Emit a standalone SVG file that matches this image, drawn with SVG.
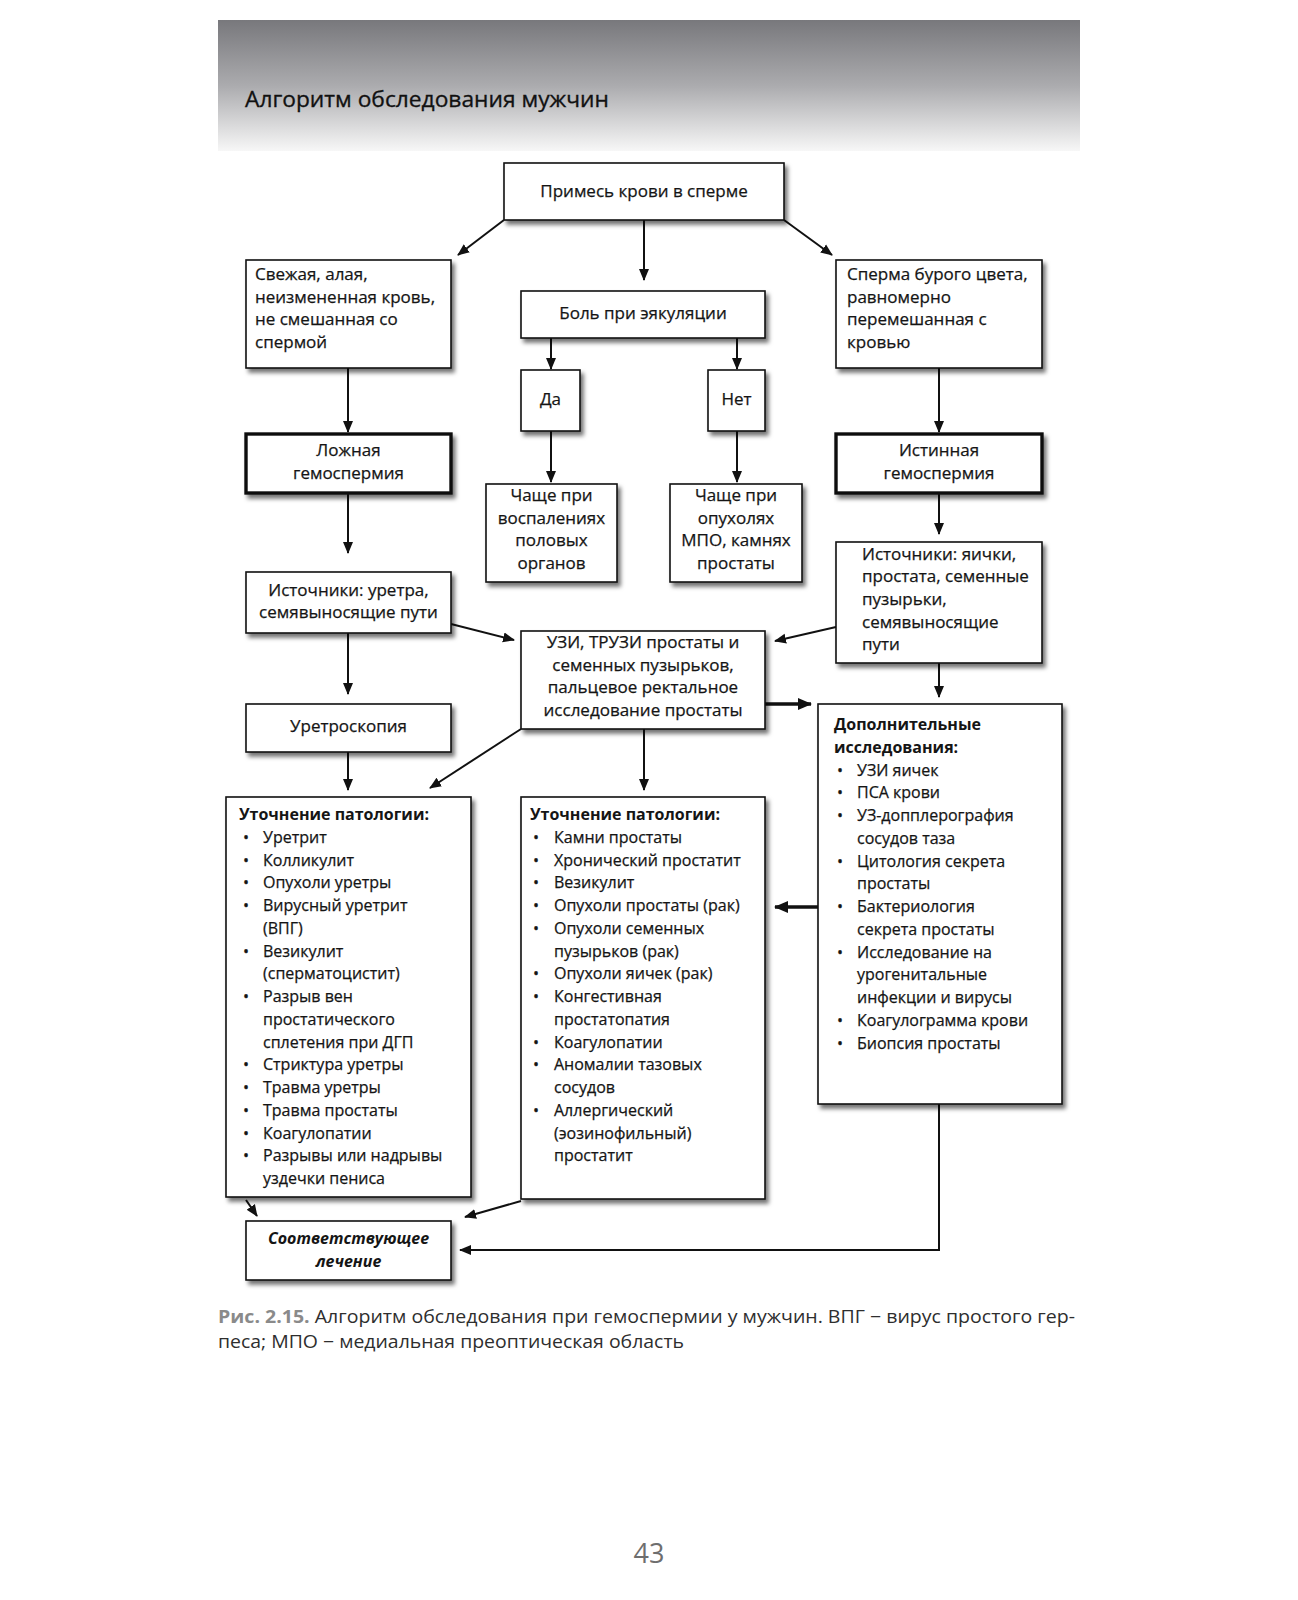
<svg xmlns="http://www.w3.org/2000/svg" width="1298" height="1600" viewBox="0 0 1298 1600">
<defs>
  <linearGradient id="hdr" x1="0" y1="0" x2="0" y2="1">
    <stop offset="0" stop-color="#78787c"/>
    <stop offset="0.5" stop-color="#ababae"/>
    <stop offset="1" stop-color="#f7f7f7"/>
  </linearGradient>
  <filter id="sh" x="-10%" y="-10%" width="130%" height="130%">
    <feDropShadow dx="3" dy="4" stdDeviation="2.2" flood-color="#000" flood-opacity="0.55"/>
  </filter>
  <marker id="ah" markerUnits="userSpaceOnUse" markerWidth="12" markerHeight="12" viewBox="0 0 12 10" refX="11" refY="5" orient="auto">
    <path d="M0,0 L12,5 L0,10 Z" fill="#111"/>
  </marker>
  <marker id="ahT" markerUnits="userSpaceOnUse" markerWidth="14" markerHeight="14" viewBox="0 0 14 12" refX="13" refY="6" orient="auto">
    <path d="M0,0 L14,6 L0,12 Z" fill="#111"/>
  </marker>
  <style>
    .box{fill:#fff;stroke:#111;stroke-width:1.6;filter:url(#sh)}
    .thick{stroke-width:3.4}
    .t{font-family:"Open Sans","Liberation Sans",sans-serif;font-size:17px;fill:#151515;stroke:#151515;stroke-width:0.25}
    .c{text-anchor:middle}
    .l{font-size:16px}
    .b{font-weight:bold;stroke-width:0}
    .bi{font-weight:bold;font-style:italic;stroke-width:0}
    .conn{stroke:#111;stroke-width:2;fill:none;marker-end:url(#ah)}
    .ct{stroke-width:3.6;marker-end:url(#ahT)}
  </style>
</defs>
<rect width="1298" height="1600" fill="#fff"/>

<g id="header">
  <rect x="218" y="20" width="862" height="131" fill="url(#hdr)"/>
  <text x="245" y="107" font-family="'Open Sans','Liberation Sans',sans-serif" font-size="21" fill="#111" stroke="#111" stroke-width="0.3" textLength="364" lengthAdjust="spacingAndGlyphs">Алгоритм обследования мужчин</text>
</g>

<g id="connectors">
  <path class="conn" d="M504,220 L458,255"/>
  <path class="conn" d="M644,220 L644,280"/>
  <path class="conn" d="M784,220 L832,255"/>
  <path class="conn" d="M551,338 L551,369"/>
  <path class="conn" d="M737,338 L737,369"/>
  <path class="conn" d="M551,431 L551,482"/>
  <path class="conn" d="M737,431 L737,482"/>
  <path class="conn" d="M348,368 L348,432"/>
  <path class="conn" d="M939,368 L939,432"/>
  <path class="conn" d="M348,493 L348,553"/>
  <path class="conn" d="M939,493 L939,534"/>
  <path class="conn" d="M451,624 L514,640"/>
  <path class="conn" d="M836,627 L775,641"/>
  <path class="conn" d="M348,633 L348,694"/>
  <path class="conn" d="M939,663 L939,697"/>
  <path class="conn ct" d="M765,704 L811,704"/>
  <path class="conn" d="M644,729 L644,790"/>
  <path class="conn" d="M521,729 L430,788"/>
  <path class="conn" d="M348,752 L348,790"/>
  <path class="conn ct" d="M818,907 L775,907"/>
  <path class="conn" d="M246,1200 L257,1216"/>
  <path class="conn" d="M521,1201 L465,1217"/>
  <path class="conn" d="M939,1104 L939,1250 L460,1250"/>
</g>

<g id="n-top">
  <rect class="box" x="504" y="163" width="280" height="57"/>
  <text class="t c" x="644" y="197">Примесь крови в сперме</text>
</g>
<g id="n-fresh">
  <rect class="box" x="246" y="260" width="205" height="108"/>
  <text class="t" x="255" y="280">Свежая, алая,<tspan x="255" y="303">неизмененная кровь,</tspan><tspan x="255" y="325">не смешанная со</tspan><tspan x="255" y="348">спермой</tspan></text>
</g>
<g id="n-pain">
  <rect class="box" x="521" y="291" width="244" height="47"/>
  <text class="t c" x="643" y="319">Боль при эякуляции</text>
</g>
<g id="n-brown">
  <rect class="box" x="836" y="260" width="206" height="108"/>
  <text class="t" x="847" y="280">Сперма бурого цвета,<tspan x="847" y="303">равномерно</tspan><tspan x="847" y="325">перемешанная с</tspan><tspan x="847" y="348">кровью</tspan></text>
</g>
<g id="n-yes">
  <rect class="box" x="521" y="370" width="59" height="61"/>
  <text class="t c" x="550.5" y="405">Да</text>
</g>
<g id="n-no">
  <rect class="box" x="708" y="370" width="57" height="61"/>
  <text class="t c" x="736.5" y="405">Нет</text>
</g>
<g id="n-false">
  <rect class="box thick" x="246" y="434" width="205" height="59"/>
  <text class="t c" x="348.5" y="456">Ложная<tspan x="348.5" y="479">гемоспермия</tspan></text>
</g>
<g id="n-true">
  <rect class="box thick" x="836" y="434" width="206" height="59"/>
  <text class="t c" x="939" y="456">Истинная<tspan x="939" y="479">гемоспермия</tspan></text>
</g>
<g id="n-infl">
  <rect class="box" x="486" y="484" width="131" height="98"/>
  <text class="t c" x="551.5" y="501">Чаще при<tspan x="551.5" y="524">воспалениях</tspan><tspan x="551.5" y="546">половых</tspan><tspan x="551.5" y="569">органов</tspan></text>
</g>
<g id="n-tum">
  <rect class="box" x="670" y="484" width="132" height="98"/>
  <text class="t c" x="736" y="501">Чаще при<tspan x="736" y="524">опухолях</tspan><tspan x="736" y="546">МПО, камнях</tspan><tspan x="736" y="569">простаты</tspan></text>
</g>
<g id="n-src1">
  <rect class="box" x="246" y="572" width="205" height="61"/>
  <text class="t c" x="348.5" y="596">Источники: уретра,<tspan x="348.5" y="618">семявыносящие пути</tspan></text>
</g>
<g id="n-src2">
  <rect class="box" x="836" y="542" width="206" height="121"/>
  <text class="t" x="862" y="560">Источники: яички,<tspan x="862" y="582">простата, семенные</tspan><tspan x="862" y="605">пузырьки,</tspan><tspan x="862" y="628">семявыносящие</tspan><tspan x="862" y="650">пути</tspan></text>
</g>
<g id="n-uzi">
  <rect class="box" x="521" y="631" width="244" height="98"/>
  <text class="t c" x="643" y="648">УЗИ, ТРУЗИ простаты и<tspan x="643" y="671">семенных пузырьков,</tspan><tspan x="643" y="693">пальцевое ректальное</tspan><tspan x="643" y="716">исследование простаты</tspan></text>
</g>
<g id="n-uretro">
  <rect class="box" x="246" y="704" width="205" height="48"/>
  <text class="t c" x="348.5" y="732">Уретроскопия</text>
</g>
<g id="n-dop">
  <rect class="box" x="818" y="704" width="244" height="400"/>
  <text class="t l b" x="834" y="730">Дополнительные<tspan x="834" dy="22.76">исследования:</tspan></text>
  <text class="t l" x="837" y="775.5">•<tspan x="837" dy="22.76">•</tspan><tspan x="837" dy="22.76">•</tspan><tspan x="837" dy="45.52">•</tspan><tspan x="837" dy="45.52">•</tspan><tspan x="837" dy="45.52">•</tspan><tspan x="837" dy="68.28">•</tspan><tspan x="837" dy="22.76">•</tspan></text>
  <text class="t l" x="857" y="775.5">УЗИ яичек<tspan x="857" dy="22.76">ПСА крови</tspan><tspan x="857" dy="22.76">УЗ-допплерография</tspan><tspan x="857" dy="22.76">сосудов таза</tspan><tspan x="857" dy="22.76">Цитология секрета</tspan><tspan x="857" dy="22.76">простаты</tspan><tspan x="857" dy="22.76">Бактериология</tspan><tspan x="857" dy="22.76">секрета простаты</tspan><tspan x="857" dy="22.76">Исследование на</tspan><tspan x="857" dy="22.76">урогенитальные</tspan><tspan x="857" dy="22.76">инфекции и вирусы</tspan><tspan x="857" dy="22.76">Коагулограмма крови</tspan><tspan x="857" dy="22.76">Биопсия простаты</tspan></text>
</g>
<g id="n-path1">
  <rect class="box" x="226" y="797" width="245" height="400"/>
  <text class="t l b" x="239" y="820">Уточнение патологии:</text>
  <text class="t l" x="243" y="842.8">•<tspan x="243" dy="22.76">•</tspan><tspan x="243" dy="22.76">•</tspan><tspan x="243" dy="22.76">•</tspan><tspan x="243" dy="45.52">•</tspan><tspan x="243" dy="45.52">•</tspan><tspan x="243" dy="68.28">•</tspan><tspan x="243" dy="22.76">•</tspan><tspan x="243" dy="22.76">•</tspan><tspan x="243" dy="22.76">•</tspan><tspan x="243" dy="22.76">•</tspan></text>
  <text class="t l" x="263" y="842.8">Уретрит<tspan x="263" dy="22.76">Колликулит</tspan><tspan x="263" dy="22.76">Опухоли уретры</tspan><tspan x="263" dy="22.76">Вирусный уретрит</tspan><tspan x="263" dy="22.76">(ВПГ)</tspan><tspan x="263" dy="22.76">Везикулит</tspan><tspan x="263" dy="22.76">(сперматоцистит)</tspan><tspan x="263" dy="22.76">Разрыв вен</tspan><tspan x="263" dy="22.76">простатического</tspan><tspan x="263" dy="22.76">сплетения при ДГП</tspan><tspan x="263" dy="22.76">Стриктура уретры</tspan><tspan x="263" dy="22.76">Травма уретры</tspan><tspan x="263" dy="22.76">Травма простаты</tspan><tspan x="263" dy="22.76">Коагулопатии</tspan><tspan x="263" dy="22.76">Разрывы или надрывы</tspan><tspan x="263" dy="22.76">уздечки пениса</tspan></text>
</g>
<g id="n-path2">
  <rect class="box" x="521" y="797" width="244" height="402"/>
  <text class="t l b" x="530" y="820">Уточнение патологии:</text>
  <text class="t l" x="533" y="842.8">•<tspan x="533" dy="22.76">•</tspan><tspan x="533" dy="22.76">•</tspan><tspan x="533" dy="22.76">•</tspan><tspan x="533" dy="22.76">•</tspan><tspan x="533" dy="45.52">•</tspan><tspan x="533" dy="22.76">•</tspan><tspan x="533" dy="45.52">•</tspan><tspan x="533" dy="22.76">•</tspan><tspan x="533" dy="45.52">•</tspan></text>
  <text class="t l" x="554" y="842.8">Камни простаты<tspan x="554" dy="22.76">Хронический простатит</tspan><tspan x="554" dy="22.76">Везикулит</tspan><tspan x="554" dy="22.76">Опухоли простаты (рак)</tspan><tspan x="554" dy="22.76">Опухоли семенных</tspan><tspan x="554" dy="22.76">пузырьков (рак)</tspan><tspan x="554" dy="22.76">Опухоли яичек (рак)</tspan><tspan x="554" dy="22.76">Конгестивная</tspan><tspan x="554" dy="22.76">простатопатия</tspan><tspan x="554" dy="22.76">Коагулопатии</tspan><tspan x="554" dy="22.76">Аномалии тазовых</tspan><tspan x="554" dy="22.76">сосудов</tspan><tspan x="554" dy="22.76">Аллергический</tspan><tspan x="554" dy="22.76">(эозинофильный)</tspan><tspan x="554" dy="22.76">простатит</tspan></text>
</g>
<g id="n-treat">
  <rect class="box" x="246" y="1221" width="205" height="59"/>
  <text class="t l bi c" x="348.5" y="1244">Соответствующее<tspan x="348.5" y="1267">лечение</tspan></text>
</g>

<g id="caption" font-family="'Open Sans','Liberation Sans',sans-serif" font-size="18">
  <text x="218" y="1323" fill="#2e2e2e" textLength="857" lengthAdjust="spacingAndGlyphs"><tspan font-weight="bold" fill="#8a8a8a">Рис. 2.15.</tspan> Алгоритм обследования при гемоспермии у мужчин. ВПГ − вирус простого гер-</text>
  <text x="218" y="1348" fill="#2e2e2e" textLength="466" lengthAdjust="spacingAndGlyphs">песа; МПО − медиальная преоптическая область</text>
</g>
<text id="page" x="649" y="1563" text-anchor="middle" font-family="'Open Sans','Liberation Sans',sans-serif" font-size="27" fill="#6e6e6e">43</text>
</svg>
